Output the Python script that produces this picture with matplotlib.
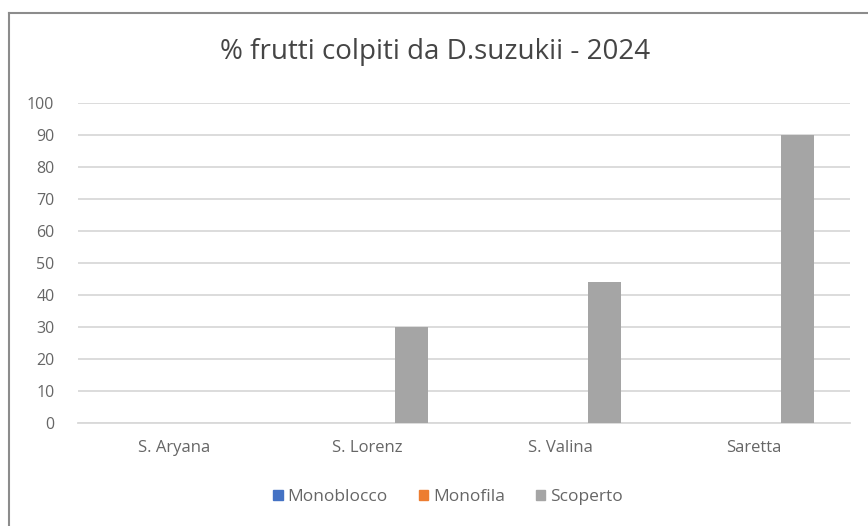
import matplotlib.pyplot as plt
import numpy as np
from matplotlib.lines import Line2D
from matplotlib.patches import Rectangle

# Data
varieties = ["S. Aryana", "S. Lorenz", "S. Valina", "Saretta"]
series_names = ["Monoblocco", "Monofila", "Scoperto"]
monoblocco = [0, 0, 0, 0]
monofila = [0, 0, 0, 0]
scoperto = [0, 30, 44, 90]
yticks = list(range(0, 101, 10))

colors = ["#4472c4", "#ed7d31", "#a5a5a5"]
text_color = "#666666"
grid_color = "#d9d9d9"

plt.rcParams["font.family"] = ["Open Sans", "DejaVu Sans"]

fig = plt.figure(figsize=(8.68, 5.26), dpi=100)
fig.patch.set_facecolor("white")

# chart frame (only top and left edges show)
fig.add_artist(Line2D([9 / 868, 9 / 868], [0, 1 - 13 / 526],
                      transform=fig.transFigure, color="#8c8c8c", lw=1.5))
fig.add_artist(Line2D([9 / 868, 1], [1 - 13 / 526, 1 - 13 / 526],
                      transform=fig.transFigure, color="#8c8c8c", lw=1.5))

ax = fig.add_axes([78 / 868, 1 - 423 / 526, 772 / 868, 320 / 526])

x = np.arange(len(varieties))
width = 0.166
step = 0.228
for i, (name, vals) in enumerate(zip(series_names, [monoblocco, monofila, scoperto])):
    ax.bar(x + (i - 1) * step, vals, width, color=colors[i], label=name, zorder=3,
           linewidth=0)

ax.set_xlim(-0.5, len(varieties) - 0.5)
ax.set_ylim(0, 100)
ax.set_yticks(yticks)
ax.set_yticklabels([str(t) for t in yticks], color=text_color, fontsize=11.5)
ax.set_xticks(x)
ax.set_xticklabels(varieties, color=text_color, fontsize=12)
ax.tick_params(axis="both", length=0)
ax.tick_params(axis="y", pad=17)
ax.tick_params(axis="x", pad=12)

ax.grid(axis="y", color=grid_color, lw=1.3, zorder=0)
for side in ["top", "right", "left"]:
    ax.spines[side].set_visible(False)
ax.spines["bottom"].set_color(grid_color)
ax.spines["bottom"].set_linewidth(1.3)

fig.text(435 / 868, 1 - 52 / 526, "% frutti colpiti da D.suzukii - 2024",
         ha="center", va="center", fontsize=20, color="#454545")

handles = [Rectangle((0, 0), 1, 1, color=c) for c in colors]
fig.legend(handles, series_names, loc="center", bbox_to_anchor=(448 / 868, 1 - 497 / 526),
           ncol=3, frameon=False, fontsize=12.5, handlelength=0.55, handleheight=0.55,
           handletextpad=0.25, columnspacing=1.8, labelcolor=text_color)

fig.savefig("out.png", dpi=100, facecolor="white")
